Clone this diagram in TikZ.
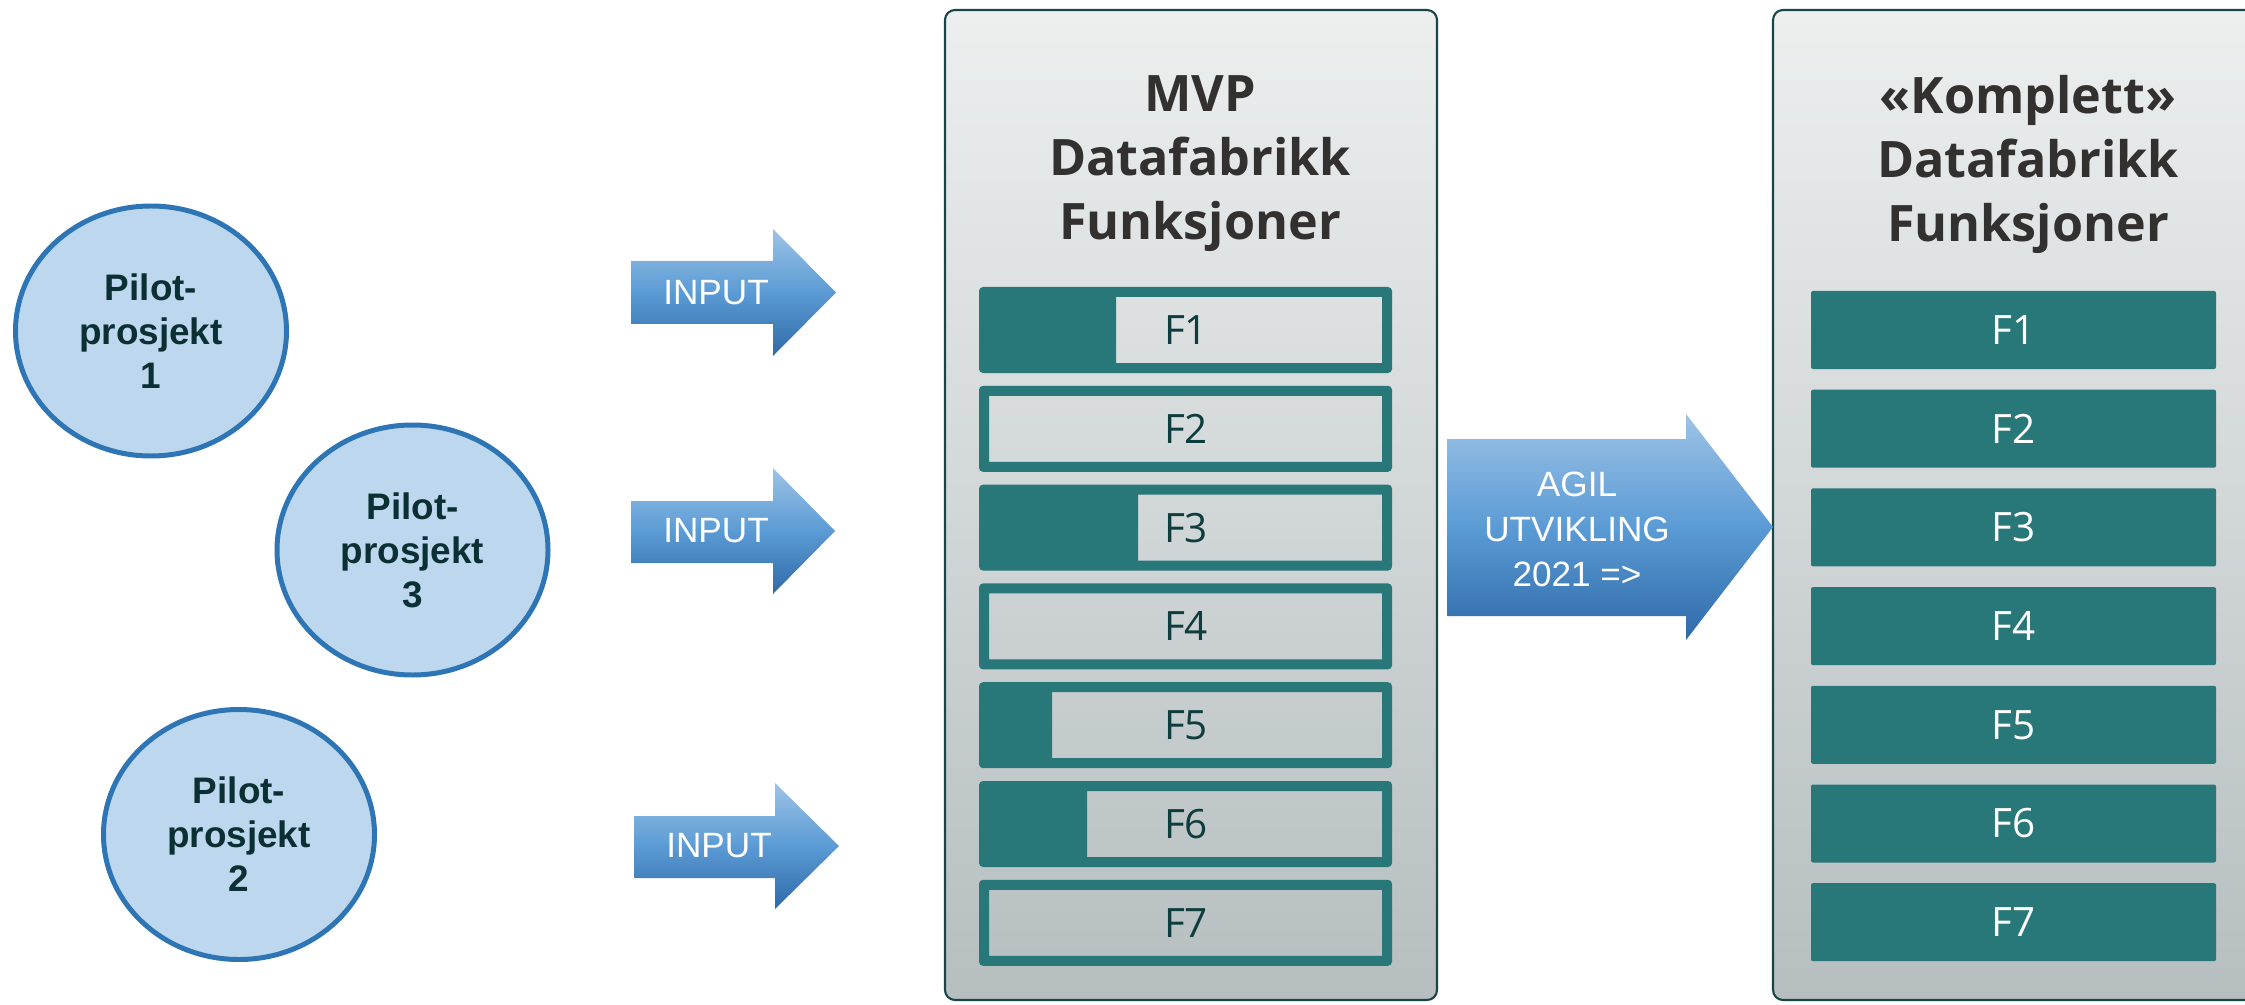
\documentclass[tikz,border=0pt]{standalone}
\usepackage{fontspec}
\setmainfont{Open Sans}
\newfontfamily\arialfont{Liberation Sans}
\usetikzlibrary{shapes.geometric}

\definecolor{circfill}{HTML}{BDD7EE}
\definecolor{circline}{HTML}{2E75B6}
\definecolor{circtext}{HTML}{0B3033}
\definecolor{arrowtop}{HTML}{9DC3E6}
\definecolor{arrowmid}{HTML}{5B9BD5}
\definecolor{arrowbot}{HTML}{2E6AA8}
\definecolor{paneltop}{HTML}{EDEFEF}
\definecolor{panelbot}{HTML}{B6BEC0}
\definecolor{panelline}{HTML}{1A4548}
\definecolor{barteal}{HTML}{287779}
\definecolor{headtext}{HTML}{333130}
\definecolor{ftext}{HTML}{0F3D3E}

\tikzset{
  pilot/.style={ellipse, draw=circline, line width=1.42pt, fill=circfill,
    minimum width=27.1mm, minimum height=25.0mm, inner sep=0pt,
    align=center, text=circtext,
    font=\arialfont\bfseries\fontsize{10.5}{12.5}\selectfont},
  bigarrow/.style={top color=arrowtop, bottom color=arrowbot, middle color=arrowmid},
  arrowtxt/.style={text=white, align=center, inner sep=0pt,
    font=\arialfont\fontsize{10}{12.8}\selectfont},
  panel/.style={draw=panelline, line width=0.6pt, rounded corners=1mm,
    top color=paneltop, bottom color=panelbot},
  headtxt/.style={text=headtext, align=center, inner sep=0pt,
    font=\bfseries\fontsize{14.3}{18.2}\selectfont},
  mvplab/.style={text=ftext, inner sep=0pt, font=\fontsize{11.5}{13}\selectfont},
  fulllab/.style={text=white, inner sep=0pt, font=\fontsize{11.5}{13}\selectfont}
}

\begin{document}
\begin{tikzpicture}[x=0.1mm, y=-0.1mm]
\useasboundingbox (0,0) rectangle (2245,1004);
\clip (0,0) rectangle (2245,1004);

% panels
\path[panel] (945,10) rectangle (1437,1000);
\path[panel] (1773,10) rectangle (2265,1000);

\node[headtxt] (mvphead) at (1200,164) {MVP\\Datafabrikk\\Funksjoner};
\node[headtxt] (fullhead) at (2028,164) {«Komplett»\\Datafabrikk\\Funksjoner};

% MVP bars
\foreach \i/\fs in {1/1116, 2/989, 3/1138, 4/989, 5/1052, 6/1087, 7/989} {
  \pgfmathsetmacro\yy{287+98.8*(\i-1)}
  \fill[barteal, even odd rule] [rounded corners=0.4mm] (979,\yy) rectangle (1392,\yy+86)
     [sharp corners] (\fs,\yy+10) rectangle (1382,\yy+76);
  \node[mvplab] (mf\i) at (1186,\yy+43) {F\i};
}

% Complete bars
\foreach \i in {1,...,7} {
  \pgfmathsetmacro\yy{291+98.7*(\i-1)}
  \fill[barteal, rounded corners=0.2mm] (1811,\yy) rectangle (2216,\yy+78);
  \node[fulllab] (cf\i) at (2013.5,\yy+39) {F\i};
}

% pilot circles
\node[pilot] (p1) at (151,331) {Pilot-\\prosjekt\\1};
\node[pilot] (p3) at (412.5,550) {Pilot-\\prosjekt\\3};
\node[pilot] (p2) at (239,834.5) {Pilot-\\prosjekt\\2};

% INPUT arrows
\path[bigarrow] (631,261) -- (773,261) -- (773,229) -- (836,292.5) -- (773,356) -- (773,324) -- (631,324) -- cycle;
\node[arrowtxt] (in1) at (716,292.5) {INPUT};
\path[bigarrow] (631,501) -- (773,501) -- (773,468) -- (835,531) -- (773,594) -- (773,563) -- (631,563) -- cycle;
\node[arrowtxt] (in2) at (716,531) {INPUT};
\path[bigarrow] (634,816) -- (775,816) -- (775,783) -- (839,846) -- (775,909) -- (775,878) -- (634,878) -- cycle;
\node[arrowtxt] (in3) at (719,846) {INPUT};

% agile arrow
\path[bigarrow] (1447,439) -- (1686,439) -- (1686,414) -- (1773,527) -- (1686,640) -- (1686,616) -- (1447,616) -- cycle;
\node[arrowtxt] (agil) at (1577,529) {AGIL\\UTVIKLING\\2021 =>};
\end{tikzpicture}
\end{document}
